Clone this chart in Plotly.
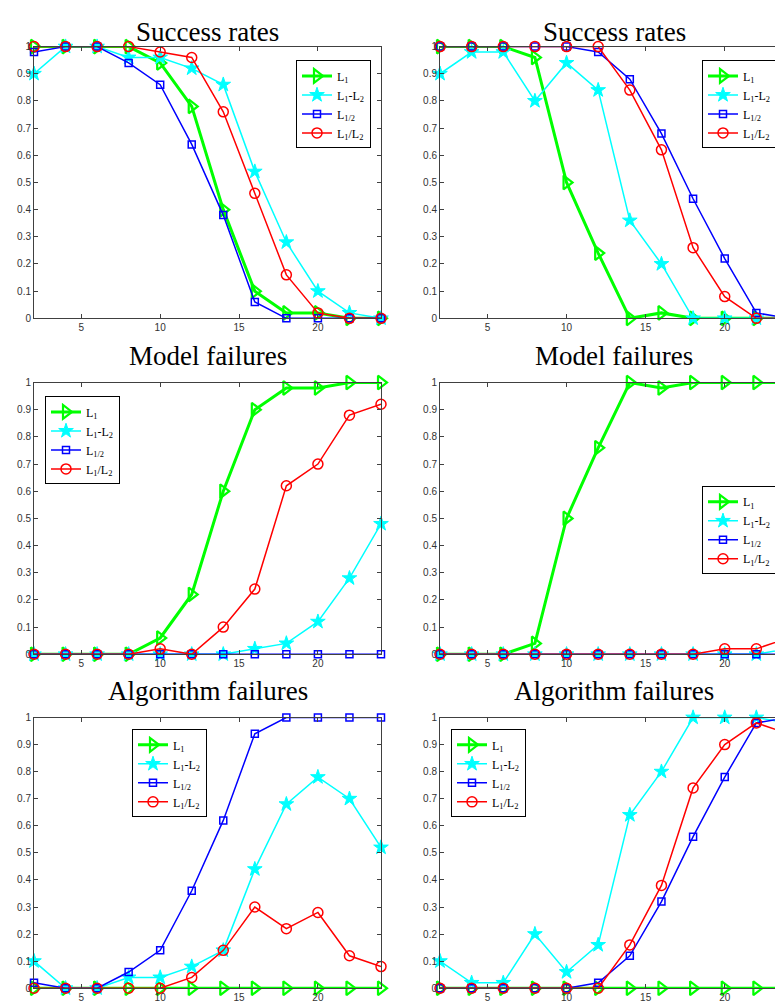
import plotly.graph_objects as go

x = [2, 4, 6, 8, 10, 12, 14, 16, 18, 20, 22, 24]

series_names = ["L<sub>1</sub>", "L<sub>1</sub>-L<sub>2</sub>", "L<sub>1/2</sub>", "L<sub>1</sub>/L<sub>2</sub>"]
titles = ["Success rates", "Success rates", "Model failures", "Model failures",
          "Algorithm failures", "Algorithm failures"]

# Panel 1: Success rates (left)
p1_l1 = [1, 1, 1, 1, 0.94, 0.78, 0.40, 0.10, 0.02, 0.02, 0, 0]
p1_l1l2 = [0.90, 1, 1, 0.96, 0.96, 0.92, 0.86, 0.54, 0.28, 0.10, 0.02, 0]
p1_lhalf = [0.98, 1, 1, 0.94, 0.86, 0.64, 0.38, 0.06, 0, 0, 0, 0]
p1_l1dl2 = [1, 1, 1, 1, 0.98, 0.96, 0.76, 0.46, 0.16, 0.02, 0, 0]

# Panel 2: Success rates (right)
p2_l1 = [1, 1, 1, 0.96, 0.50, 0.24, 0, 0.02, 0, 0, 0, 0]
p2_l1l2 = [0.90, 0.98, 0.98, 0.80, 0.94, 0.84, 0.36, 0.20, 0, 0, 0, 0]
p2_lhalf = [1, 1, 1, 1, 1, 0.98, 0.88, 0.68, 0.44, 0.22, 0.02, 0]
p2_l1dl2 = [1, 1, 1, 1, 1, 1, 0.84, 0.62, 0.26, 0.08, 0, 0]

# Panel 3: Model failures (left)
p3_l1 = [0, 0, 0, 0, 0.06, 0.22, 0.60, 0.90, 0.98, 0.98, 1, 1]
p3_l1l2 = [0, 0, 0, 0, 0, 0, 0, 0.02, 0.04, 0.12, 0.28, 0.48]
p3_lhalf = [0, 0, 0, 0, 0, 0, 0, 0, 0, 0, 0, 0]
p3_l1dl2 = [0, 0, 0, 0, 0.02, 0, 0.10, 0.24, 0.62, 0.70, 0.88, 0.92]

# Panel 4: Model failures (right)
p4_l1 = [0, 0, 0, 0.04, 0.50, 0.76, 1, 0.98, 1, 1, 1, 1]
p4_l1l2 = [0, 0, 0, 0, 0, 0, 0, 0, 0, 0, 0, 0.02]
p4_lhalf = [0, 0, 0, 0, 0, 0, 0, 0, 0, 0, 0, 0]
p4_l1dl2 = [0, 0, 0, 0, 0, 0, 0, 0, 0, 0.02, 0.02, 0.06]

# Panel 5: Algorithm failures (left)
p5_l1 = [0, 0, 0, 0, 0, 0, 0, 0, 0, 0, 0, 0]
p5_l1l2 = [0.10, 0, 0, 0.04, 0.04, 0.08, 0.14, 0.44, 0.68, 0.78, 0.70, 0.52]
p5_lhalf = [0.02, 0, 0, 0.06, 0.14, 0.36, 0.62, 0.94, 1, 1, 1, 1]
p5_l1dl2 = [0, 0, 0, 0, 0, 0.04, 0.14, 0.30, 0.22, 0.28, 0.12, 0.08]

# Panel 6: Algorithm failures (right)
p6_l1 = [0, 0, 0, 0, 0, 0, 0, 0, 0, 0, 0, 0]
p6_l1l2 = [0.10, 0.02, 0.02, 0.20, 0.06, 0.16, 0.64, 0.80, 1, 1, 1, 0.98]
p6_lhalf = [0, 0, 0, 0, 0, 0.02, 0.12, 0.32, 0.56, 0.78, 0.98, 1]
p6_l1dl2 = [0, 0, 0, 0, 0, 0, 0.16, 0.38, 0.74, 0.90, 0.98, 0.94]

panels = [
    [p1_l1, p1_l1l2, p1_lhalf, p1_l1dl2],
    [p2_l1, p2_l1l2, p2_lhalf, p2_l1dl2],
    [p3_l1, p3_l1l2, p3_lhalf, p3_l1dl2],
    [p4_l1, p4_l1l2, p4_lhalf, p4_l1dl2],
    [p5_l1, p5_l1l2, p5_lhalf, p5_l1dl2],
    [p6_l1, p6_l1l2, p6_lhalf, p6_l1dl2],
]

W, H = 783, 1007
styles = [
    dict(color="#00FF00", width=3, symbol="triangle-right-open", size=12, mlw=2.2),
    dict(color="#00FFFF", width=1.5, symbol="star", size=11, mlw=1),
    dict(color="#0000FF", width=1.5, symbol="square-open", size=7, mlw=1.5),
    dict(color="#FF0000", width=1.5, symbol="circle-open", size=10, mlw=1.5),
]

# layout geometry in pixels
x_doms = [(26, 373), (432, 780)]
y_doms = [(33, 308), (373, 648), (712, 986)]
# (x, y, xanchor)
legend_pos = [(363, 47, "right"), (769, 47, "right"), (37, 387, "left"),
              (769, 478, "right"), (124, 724, "left"), (443, 724, "left")]
# (y pixel, yanchor)
title_pos = [(1, "top"), (363, "bottom"), (702, "bottom")]

fig = go.Figure()
layout = dict(width=W, height=H, margin=dict(l=0, r=0, t=0, b=0),
              paper_bgcolor="white", plot_bgcolor="white", annotations=[])

axis_color = "#404040"
tick_font = dict(family="Liberation Sans, Arial, sans-serif", size=10, color="#333333")

for i, data in enumerate(panels):
    r, c = divmod(i, 2)
    xa = "x" if i == 0 else f"x{i+1}"
    ya = "y" if i == 0 else f"y{i+1}"
    xkey = "xaxis" if i == 0 else f"xaxis{i+1}"
    ykey = "yaxis" if i == 0 else f"yaxis{i+1}"
    lkey = "legend" if i == 0 else f"legend{i+1}"
    x0, x1 = x_doms[c]
    y0, y1 = y_doms[r]
    layout[xkey] = dict(domain=[x0 / W, x1 / W], range=[2, 24], anchor=ya,
                        tickvals=[5, 10, 15, 20], ticks="inside", ticklen=4,
                        showline=True, linecolor=axis_color, linewidth=1, mirror="ticks",
                        tickcolor=axis_color, showgrid=False, zeroline=False,
                        tickfont=tick_font, fixedrange=True)
    layout[ykey] = dict(domain=[1 - y1 / H, 1 - y0 / H], range=[0, 1], anchor=xa,
                        tickvals=[i / 10 for i in range(11)],
                        ticktext=["0", "0.1", "0.2", "0.3", "0.4", "0.5", "0.6", "0.7", "0.8", "0.9", "1"],
                        ticks="inside", ticklen=4,
                        showline=True, linecolor=axis_color, linewidth=1, mirror="ticks",
                        tickcolor=axis_color, showgrid=False, zeroline=False,
                        tickfont=tick_font, fixedrange=True)
    lx, ly, lxa = legend_pos[i]
    layout[lkey] = dict(x=lx / W, y=1 - ly / H, xanchor=lxa, yanchor="top",
                        bgcolor="white", bordercolor="#000000", borderwidth=1,
                        font=dict(family="Liberation Serif, Times New Roman, serif", size=12, color="#000"),
                        itemwidth=30, tracegroupgap=0)
    for k, ys in enumerate(data):
        st = styles[k]
        fig.add_trace(go.Scatter(
            x=x, y=ys, mode="lines+markers", name=series_names[k],
            xaxis=xa, yaxis=ya, legend=lkey, cliponaxis=False,
            line=dict(color=st["color"], width=st["width"]),
            marker=dict(symbol=st["symbol"], size=st["size"], color=st["color"],
                        line=dict(color=st["color"], width=st["mlw"])),
        ))
    ty, tya = title_pos[r]
    layout["annotations"].append(dict(
        text=titles[i], xref="paper", yref="paper",
        x=((x0 + x1) / 2) / W, y=1 - ty / H, xanchor="center", yanchor=tya,
        showarrow=False,
        font=dict(family="Liberation Serif, Times New Roman, serif", size=27, color="#000")))

fig.update_layout(**layout)
fig.write_html("out.html")
